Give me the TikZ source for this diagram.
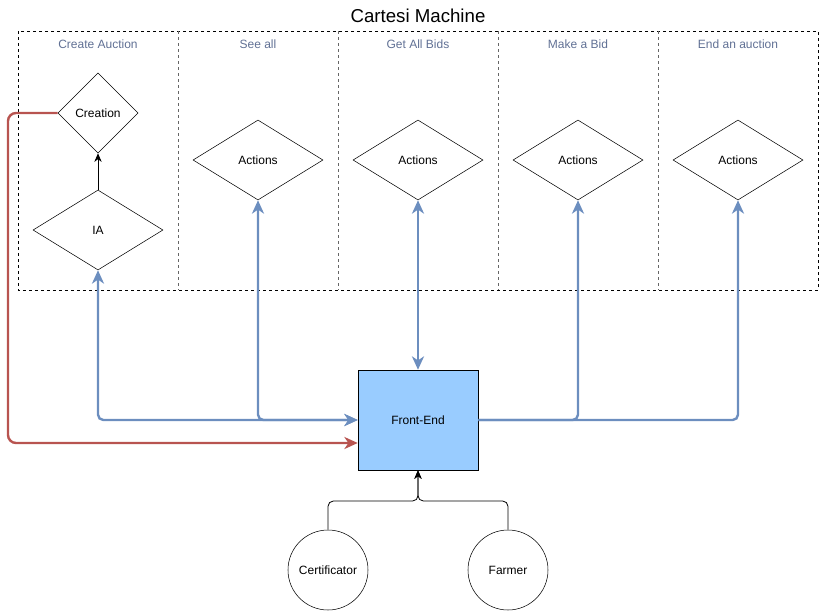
\documentclass[tikz,border=0pt]{standalone}
\usepackage{fontspec}
\setmainfont{Liberation Sans}
\usetikzlibrary{shapes.geometric, arrows, arrows.meta}
\definecolor{lanetext}{RGB}{96,112,148}
\definecolor{bluelink}{RGB}{108,142,191}
\definecolor{redlink}{RGB}{184,84,80}
\definecolor{frontfill}{RGB}{153,204,255}
\tikzstyle{decision} = [diamond, draw=black, inner sep=0pt, minimum width=97.5pt, minimum height=60pt, font=\fontsize{9}{11}\selectfont]
\tikzstyle{creationbox} = [diamond, draw=black, inner sep=0pt, minimum width=60pt, minimum height=60pt, font=\fontsize{9}{11}\selectfont]
\tikzstyle{actor} = [circle, draw=black, inner sep=0pt, minimum size=60pt, font=\fontsize{9}{11}\selectfont]
\tikzstyle{frontend} = [rectangle, draw=black, fill=frontfill, minimum width=90pt, minimum height=75pt, font=\fontsize{9}{11}\selectfont]
\tikzstyle{lanetitle} = [text=lanetext, font=\fontsize{9}{11}\selectfont]
\tikzstyle{lane} = [draw=black!60, thin, dash pattern=on 2.25pt off 2.25pt]
\tikzstyle{link} = [line width=1.8pt, draw=bluelink, >={Stealth[length=10pt, width=9pt, inset=3pt]}, rounded corners=4pt]
\tikzstyle{redarrow} = [line width=1.8pt, draw=redlink, ->, >={Stealth[length=10pt, width=9pt, inset=3pt]}, rounded corners=6pt]
\tikzstyle{arrow} = [semithick, ->, >={Stealth[length=6.5pt, width=5.5pt]}, rounded corners=4pt]
\begin{document}
\begin{tikzpicture}[x=0.75pt, y=-0.75pt]
    \useasboundingbox (0,0) rectangle (819,611);
    \node (title) at (418,16) {\fontsize{14}{16}\selectfont Cartesi Machine};
    \draw[thin, dash pattern=on 2.25pt off 2.25pt] (18,31) rectangle (818,290);
    \foreach \x in {178,338,498,658} \draw[lane] (\x,31) -- (\x,290);
    \foreach \x/\t in {98/Create Auction, 258/See all, 418/Get All Bids, 578/Make a Bid, 738/End an auction}
        \node[lanetitle] at (\x,44) {\t};

    \node (creation) [creationbox] at (98,113) {Creation};
    \node (ia) [decision] at (98,230) {IA};
    \foreach \x/\n in {258/seeall, 418/getbids, 578/makebid, 738/endauction}
        \node (\n) [decision] at (\x,160) {Actions};
    \draw [arrow] (ia) -- (creation);

    \node (frontend) [frontend] at (418,420) {Front-End};
    \draw [link,<->] (ia) |- (frontend);
    \draw [link,<->] (seeall) |- (frontend);
    \draw [link,<->] (getbids) -- (frontend);
    \draw [link,->] (frontend) -| (makebid);
    \draw [link,->] (frontend) -| (endauction);

    \coordinate (redturn) at (8,113);
    \draw [redarrow] (creation.west) -- (redturn) |- ([yshift=-17.25pt]frontend.west);

    \node (certificator) [actor] at (328,570) {Certificator};
    \node (farmer) [actor] at (508,570) {Farmer};
    \coordinate (join) at (418,501);
    \draw [arrow] (certificator.north) |- (join) -- (frontend.south);
    \draw [arrow] (farmer.north) |- (join) -- (frontend.south);
\end{tikzpicture}
\end{document}
